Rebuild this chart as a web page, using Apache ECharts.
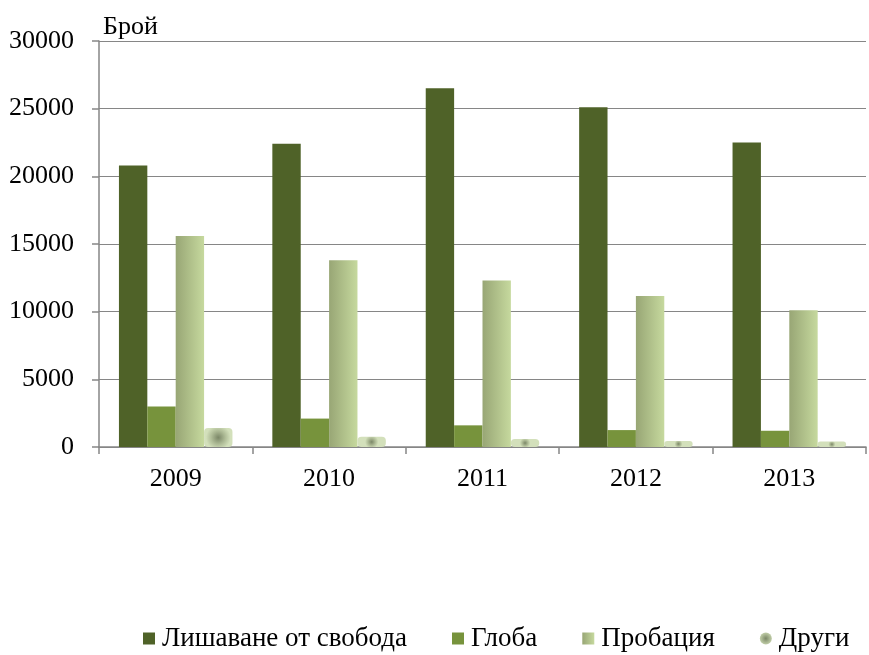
<!DOCTYPE html>
<html>
<head>
<meta charset="utf-8">
<script src="https://cdn.jsdelivr.net/npm/echarts@6/dist/echarts.min.js"></script>
<style>html,body{margin:0;padding:0;background:#fff}#c{width:869px;height:655px}</style>
</head>
<body>
<div id="c"></div>
<script>
var categories = ['2009', '2010', '2011', '2012', '2013'];
var seriesNames = ['Лишаване от свобода', 'Глоба', 'Пробация', 'Други'];
var imprisonment = [20800, 22400, 26500, 25100, 22500];
var fine = [3000, 2100, 1600, 1250, 1200];
var probation = [15600, 13800, 12300, 11150, 10100];
var others = [1400, 750, 590, 450, 400];
var yTicks = { min: 0, max: 30000, interval: 5000 };
var yName = 'Брой';

var FONT = 'Liberation Serif';
var FS = 26;
var colors = [
  '#4F6228',
  '#77933C',
  new echarts.graphic.LinearGradient(0, 0, 1, 0, [{offset: 0, color: '#98a675'}, {offset: 1, color: '#c6d99e'}]),
  new echarts.graphic.RadialGradient(0.5, 0.5, 0.65, [{offset: 0, color: '#7b8767'}, {offset: 0.55, color: '#aebb96'}, {offset: 1, color: '#d3e0bb'}])
];
var dataArr = [imprisonment, fine, probation, others];

var chart = echarts.init(document.getElementById('c'));
chart.setOption({
  animation: false,
  textStyle: { fontFamily: FONT, color: '#000' },
  grid: { left: 99, right: 3, top: 41, bottom: 208, containLabel: false },
  legend: {
    bottom: 3,
    left: 143,
    padding: 0,
    itemWidth: 12,
    itemHeight: 12,
    itemGap: 45,
    textStyle: { fontFamily: FONT, fontSize: 27, color: '#000', padding: [0, 0, 0, 2] },
    data: seriesNames.map(function (n, i) {
      return { name: n, icon: i === 3 ? 'circle' : 'rect' };
    })
  },
  xAxis: {
    type: 'category',
    data: categories,
    axisLine: { lineStyle: { color: '#868686', width: 1.5 } },
    axisTick: { show: true, length: 7, lineStyle: { color: '#868686', width: 1.5 } },
    axisLabel: { fontFamily: FONT, fontSize: FS, color: '#000', margin: 19 }
  },
  yAxis: {
    type: 'value',
    min: yTicks.min,
    max: yTicks.max,
    interval: yTicks.interval,
    name: yName,
    nameLocation: 'end',
    nameGap: 1,
    nameTextStyle: { fontFamily: FONT, fontSize: FS, color: '#000', align: 'left', verticalAlign: 'bottom', padding: [0, 0, 0, 4] },
    axisLine: { show: true, lineStyle: { color: '#868686', width: 1.5 } },
    axisTick: { show: true, length: 7, lineStyle: { color: '#868686', width: 1.5 } },
    splitLine: { show: true, lineStyle: { color: '#868686', width: 1.2 } },
    axisLabel: { fontFamily: FONT, fontSize: FS, color: '#000', margin: 25, formatter: function (v) { return String(v); } }
  },
  series: seriesNames.map(function (n, i) {
    return {
      name: n,
      type: 'bar',
      data: dataArr[i],
      barGap: '0%',
      barCategoryGap: '26%',
      itemStyle: { color: colors[i], borderRadius: i === 3 ? 4 : 0 }
    };
  })
});
</script>
</body>
</html>
